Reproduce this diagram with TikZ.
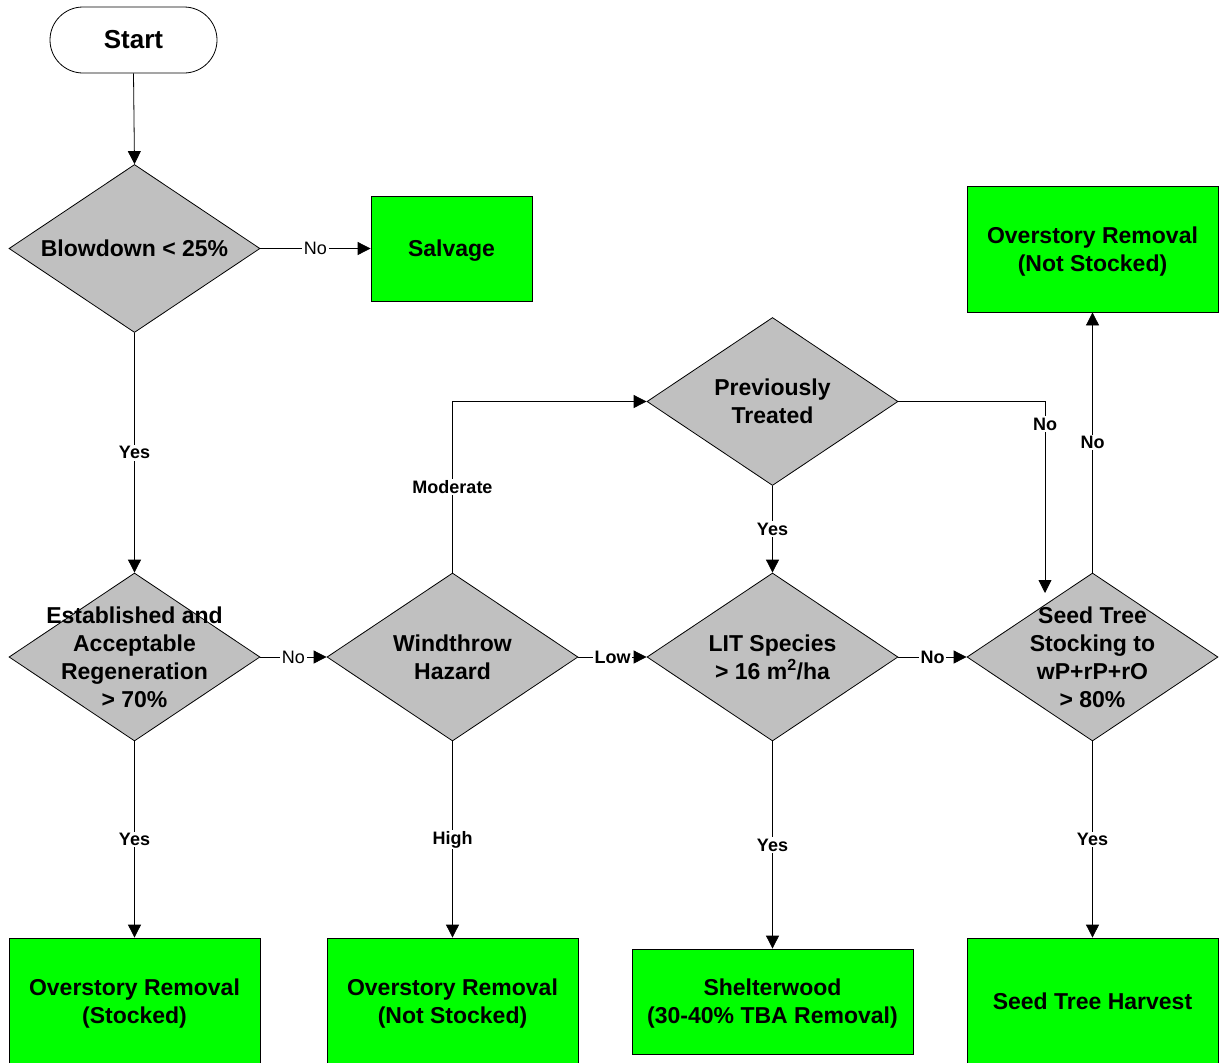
\documentclass[tikz,border=0pt]{standalone}
\usepackage{fontspec}
\setmainfont{Liberation Sans}
\usetikzlibrary{shapes.geometric,arrows.meta}
\definecolor{gray75}{HTML}{C0C0C0}
\definecolor{leafgreen}{HTML}{00FF00}
\begin{document}
\begin{tikzpicture}[x=1pt,y=-1pt,
  decision/.style={diamond, draw=black, fill=gray75, line width=0.8pt, inner sep=0pt,
    minimum width=251pt, minimum height=168pt},
  outcome/.style={rectangle, draw=black, fill=leafgreen, line width=0.8pt, inner sep=0pt},
  terminal/.style={rectangle, rounded corners=33pt, draw=black, line width=0.8pt,
    minimum width=167pt, minimum height=66pt, font=\bfseries\fontsize{26}{30}\selectfont},
  body/.style={font=\bfseries\fontsize{23}{28}\selectfont, align=center, inner sep=0pt},
  boxtext/.style={body, yshift=-2.5pt},
  lab/.style={fill=white, inner sep=1.5pt, font=\bfseries\fontsize{18}{20}\selectfont},
  labreg/.style={lab, font=\fontsize{18}{20}\selectfont},
  arr/.style={draw=black, line width=0.8pt, -{Triangle[length=13pt,width=13pt]}}
]
\useasboundingbox (0,0) rectangle (1221,1063);

% start terminal
\node[terminal] (start) at (133.5,40) {Start};

% decisions
\node[decision] (blow)  at (134.5,248.5) {};
\node[decision] (estab) at (134.5,657) {};
\node[decision] (wind)  at (452.5,657) {};
\node[decision] (lit)   at (772.5,657) {};
\node[decision] (seed)  at (1092.5,657) {};
\node[decision] (prev)  at (772.5,401.5) {};

\node[body] at (blow)  {Blowdown < 25\%};
\node[body] at (estab) {Established and\\Acceptable\\Regeneration\\> 70\%};
\node[body] at (wind)  {Windthrow\\Hazard};
\node[body] at (lit)   {LIT Species\\> 16 m\textsuperscript{2}/ha};
\node[body] at (seed)  {Seed Tree\\Stocking to\\wP+rP+rO\\> 80\%};
\node[body] at (prev)  {Previously\\Treated};

% outcomes
\node[outcome, minimum width=161pt, minimum height=105pt] (salv) at (451.5,248.5) {};
\node[outcome, minimum width=251pt, minimum height=126pt] (ortop) at (1092.5,249) {};
\node[outcome, minimum width=251pt, minimum height=126pt] (orst) at (134.5,1001) {};
\node[outcome, minimum width=251pt, minimum height=126pt] (orns) at (452.5,1001) {};
\node[outcome, minimum width=281pt, minimum height=105pt] (shelt) at (772.5,1001.5) {};
\node[outcome, minimum width=251pt, minimum height=126pt] (sth) at (1092.5,1001) {};

\node[boxtext] at (salv)  {Salvage};
\node[boxtext] at (ortop) {Overstory Removal\\(Not Stocked)};
\node[boxtext] at (orst)  {Overstory Removal\\(Stocked)};
\node[boxtext] at (orns)  {Overstory Removal\\(Not Stocked)};
\node[boxtext] at (shelt) {Shelterwood\\(30-40\% TBA Removal)};
\node[body] at (sth)   {Seed Tree Harvest};

% connectors
\coordinate (seedin) at (1045,593);

\draw[arr] (start.south) -- (blow.north);
\draw[arr] (blow.east) -- node[labreg]{No} (salv.west);
\draw[arr] (blow.south) -- node[lab]{Yes} (estab.north);
\draw[arr] (estab.east) -- node[labreg]{No} (wind.west);
\draw[arr] (estab.south) -- node[lab]{Yes} (orst.north);
\draw[arr] (wind.north) |- node[lab, pos=0.25]{Moderate} (prev.west);
\draw[arr] (wind.east) -- node[lab]{Low} (lit.west);
\draw[arr] (wind.south) -- node[lab]{High} (orns.north);
\draw[arr] (prev.south) -- node[lab]{Yes} (lit.north);
\draw[arr] (prev.east) -| node[lab, pos=0.559]{No} (seedin);
\draw[arr] (lit.east) -- node[lab]{No} (seed.west);
\draw[arr] (lit.south) -- node[lab]{Yes} (shelt.north);
\draw[arr] (seed.south) -- node[lab]{Yes} (sth.north);
\draw[arr] (seed.north) -- node[lab]{No} (ortop.south);
\end{tikzpicture}
\end{document}
